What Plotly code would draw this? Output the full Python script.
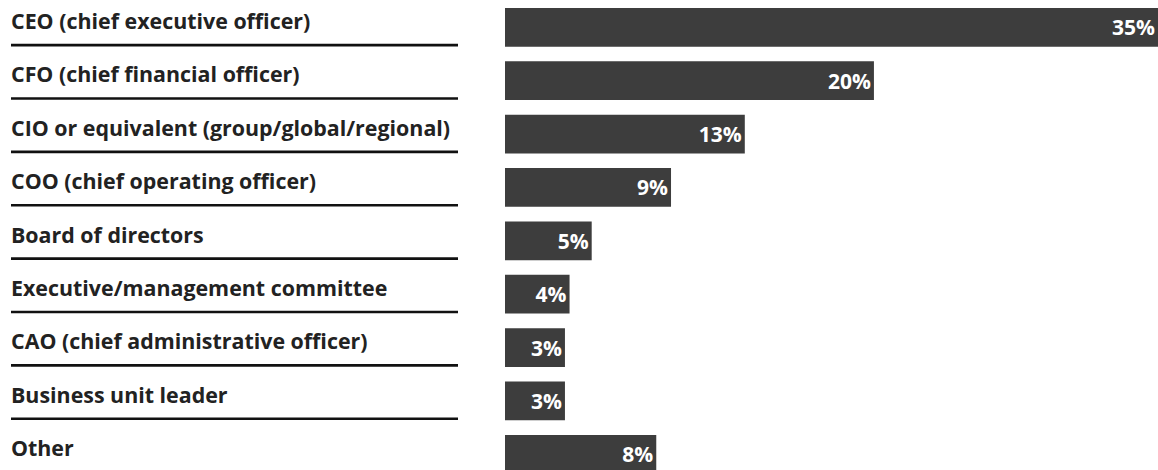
import plotly.graph_objects as go

categories = [
    "CEO (chief executive officer)",
    "CFO (chief financial officer)",
    "CIO or equivalent (group/global/regional)",
    "COO (chief operating officer)",
    "Board of directors",
    "Executive/management committee",
    "CAO (chief administrative officer)",
    "Business unit leader",
    "Other",
]
# values; labels as printed (rounded)
values = [35.4, 20.0, 13.0, 9.0, 4.7, 3.5, 3.25, 3.25, 8.2]
value_labels = ["35%", "20%", "13%", "9%", "5%", "4%", "3%", "3%", "8%"]

W, H = 1158, 470
bar_start = 505
step = 53.375
first_center = 27.35
bar_h = 38.7

idx = list(range(len(categories)))
y_top = -first_center / step
y_bot = (H - first_center) / step

fig = go.Figure()
fig.add_trace(go.Bar(
    x=values,
    y=idx,
    orientation="h",
    width=bar_h / step,
    marker=dict(color="#3d3d3d", line=dict(width=0)),
    text=value_labels,
    textposition="inside",
    insidetextanchor="end",
    textangle=0,
    textfont=dict(family="Open Sans", size=21, color="#ffffff", weight="bold"),
    hoverinfo="skip",
    cliponaxis=False,
))

annotations = []
shapes = []
for i, c in enumerate(categories):
    annotations.append(dict(
        x=9 / W, xref="paper", xanchor="left",
        y=i - 6.8 / step, yref="y", yanchor="middle",
        text=f"<b>{c}</b>", showarrow=False,
        font=dict(family="Open Sans", size=21.4, color="#222222"),
    ))
    if i < len(categories) - 1:
        shapes.append(dict(
            type="line", xref="paper", yref="y",
            x0=11 / W, x1=458 / W,
            y0=i + 17.8 / step, y1=i + 17.8 / step,
            line=dict(color="#111111", width=2.6),
        ))

fig.update_layout(
    width=W, height=H,
    margin=dict(l=0, r=0, t=0, b=0),
    paper_bgcolor="white", plot_bgcolor="white",
    showlegend=False,
    xaxis=dict(domain=[bar_start / W, 1], range=[0, 35.4], visible=False, fixedrange=True),
    yaxis=dict(range=[y_bot, y_top], visible=False, fixedrange=True),
    annotations=annotations,
    shapes=shapes,
    uniformtext=dict(minsize=21, mode="show"),
)

fig.write_html(
    "out.html",
    config={"displayModeBar": False},
    post_script="document.body.style.margin='0';document.body.style.overflow='hidden';",
)
